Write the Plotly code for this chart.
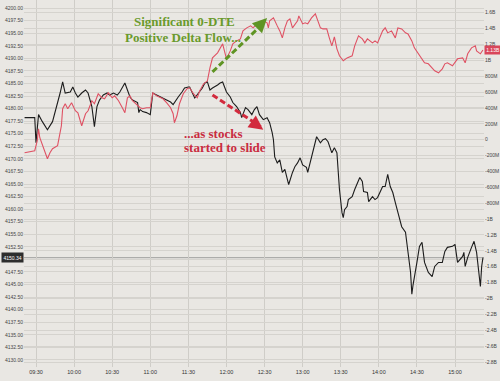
import plotly.graph_objects as go

BASE_DATE = "2023-03-02"

# SPX (left axis)
spx_times = [
    "09:21", "09:29", "09:30", "09:32", "09:35", "09:39", "09:43", "09:45", "09:47", "09:49",
    "09:51", "09:53", "09:57", "09:59", "10:01", "10:03", "10:06", "10:09", "10:11", "10:14",
    "10:16", "10:17", "10:18", "10:20", "10:23", "10:26", "10:28", "10:31", "10:34", "10:36",
    "10:39", "10:40", "10:42", "10:44", "10:46", "10:50", "10:51", "10:52", "10:54", "10:57",
    "11:00", "11:01", "11:02", "11:05", "11:08", "11:10", "11:13", "11:16", "11:18", "11:19",
    "11:22", "11:25", "11:27", "11:30", "11:31", "11:35", "11:38", "11:41", "11:43", "11:45",
    "11:47", "11:49", "11:53", "11:55", "11:57", "12:00", "12:03", "12:05", "12:08", "12:11",
    "12:12", "12:15", "12:17", "12:20", "12:22", "12:24", "12:26", "12:29", "12:32", "12:34",
    "12:36", "12:37", "12:38", "12:40", "12:42", "12:44", "12:46", "12:48", "12:49", "12:52",
    "12:54", "12:56", "12:58", "13:00", "13:03", "13:04", "13:07", "13:10", "13:11", "13:14",
    "13:16", "13:18", "13:20", "13:23", "13:25", "13:27", "13:28", "13:29", "13:31", "13:32",
    "13:33", "13:35", "13:36", "13:39", "13:41", "13:44", "13:45", "13:47", "13:48", "13:51",
    "13:52", "13:55", "13:57", "13:59", "14:03", "14:05", "14:07", "14:09", "14:11", "14:13",
    "14:15", "14:18", "14:21", "14:22", "14:23", "14:25", "14:26", "14:27", "14:30", "14:32",
    "14:34", "14:36", "14:39", "14:42", "14:44", "14:47", "14:50", "14:52", "14:54", "14:58",
    "15:00", "15:02", "15:06", "15:07", "15:08", "15:10", "15:13", "15:15", "15:17", "15:20",
    "15:21", "15:22",
]
spx_values = [
    4178.2, 4178.2, 4173.2, 4178.8, 4177.4, 4175.8, 4177.4, 4179.2, 4181.4, 4183.1,
    4185.3, 4183.1, 4183.3, 4184.3, 4183.1, 4182.3, 4183.1, 4183.7, 4183.1, 4180.4,
    4176.4, 4178.4, 4180.4, 4181.7, 4182.7, 4183.1, 4182.7, 4183.1, 4182.7, 4183.3,
    4184.7, 4185.1, 4183.7, 4182.3, 4181.7, 4181.2, 4179.2, 4179.8, 4179.4, 4179.2,
    4178.8, 4181.2, 4183.1, 4182.7, 4182.3, 4182.1, 4181.7, 4181.3, 4180.8, 4181.2,
    4182.3, 4183.3, 4184.1, 4184.3, 4184.3, 4182.1, 4183.1, 4184.1, 4185.1, 4185.3,
    4183.7, 4184.1, 4184.7, 4185.1, 4185.3, 4183.3, 4182.3, 4181.2, 4180.4, 4179.2,
    4178.2, 4180.2, 4179.8, 4178.8, 4179.8, 4180.4, 4178.8, 4177.8, 4178.2, 4177.2,
    4175.2, 4173.8, 4170.4, 4169.2, 4169.8, 4167.3, 4167.9, 4165.9, 4164.9, 4167.3,
    4168.5, 4169.2, 4170.2, 4168.8, 4168.3, 4167.3, 4170.4, 4173.8, 4174.4, 4173.2,
    4173.8, 4174.0, 4173.4, 4171.2, 4172.2, 4171.2, 4167.3, 4163.9, 4159.3, 4158.3,
    4159.9, 4160.5, 4161.9, 4162.5, 4163.9, 4165.5, 4166.3, 4165.5, 4163.5, 4163.3,
    4161.5, 4162.5, 4161.9, 4162.3, 4164.5, 4164.5, 4166.9, 4164.5, 4163.3, 4161.3,
    4159.3, 4156.5, 4155.4, 4153.4, 4151.4, 4147.4, 4143.1, 4145.0, 4149.4, 4152.6,
    4153.4, 4149.4, 4147.4, 4146.6, 4148.6, 4149.4, 4149.4, 4151.6, 4152.4, 4152.6,
    4153.0, 4149.4, 4150.6, 4151.4, 4148.6, 4150.4, 4152.4, 4153.6, 4151.4, 4144.6,
    4148.6, 4150.34,
]

# 0-DTE cumulative delta flow, in billions (right axis)
flow_times = [
    "09:21", "09:29", "09:31", "09:32", "09:33", "09:36", "09:39", "09:41", "09:43", "09:47",
    "09:49", "09:50", "09:51", "09:53", "09:55", "09:58", "10:01", "10:03", "10:06", "10:09",
    "10:11", "10:14", "10:16", "10:19", "10:22", "10:24", "10:27", "10:30", "10:32", "10:35",
    "10:38", "10:40", "10:42", "10:44", "10:46", "10:50", "10:52", "10:54", "10:57", "11:00",
    "11:02", "11:05", "11:08", "11:10", "11:13", "11:16", "11:18", "11:19", "11:21", "11:23",
    "11:26", "11:29", "11:31", "11:34", "11:37", "11:39", "11:42", "11:45", "11:47", "11:49",
    "11:53", "11:55", "11:57", "11:59", "12:00", "12:03", "12:05", "12:08", "12:11", "12:13",
    "12:16", "12:19", "12:21", "12:24", "12:26", "12:29", "12:32", "12:33", "12:34", "12:37",
    "12:40", "12:42", "12:44", "12:46", "12:48", "12:50", "12:52", "12:56", "12:57", "13:00",
    "13:02", "13:04", "13:07", "13:10", "13:12", "13:14", "13:16", "13:19", "13:21", "13:23",
    "13:25", "13:27", "13:29", "13:32", "13:35", "13:39", "13:41", "13:44", "13:47", "13:49",
    "13:51", "13:55", "13:57", "13:59", "14:03", "14:05", "14:07", "14:10", "14:13", "14:15",
    "14:18", "14:21", "14:23", "14:26", "14:28", "14:31", "14:34", "14:36", "14:39", "14:42",
    "14:44", "14:47", "14:50", "14:52", "14:54", "14:58", "15:00", "15:02", "15:06", "15:08",
    "15:10", "15:13", "15:16", "15:17", "15:20", "15:22",
]
flow_values = [
    -0.164, -0.138, -0.013, 0.138, 0.025, -0.101, -0.239, -0.164, -0.113, -0.075,
    0.075, 0.176, 0.390, 0.453, 0.390, 0.465, 0.365, 0.340, 0.176, 0.327,
    0.365, 0.491, 0.453, 0.579, 0.528, 0.516, 0.591, 0.528, 0.553, 0.491,
    0.403, 0.340, 0.528, 0.553, 0.491, 0.428, 0.403, 0.390, 0.403, 0.403,
    0.591, 0.553, 0.528, 0.516, 0.465, 0.403, 0.327, 0.214, 0.302, 0.453,
    0.579, 0.642, 0.654, 0.579, 0.528, 0.616, 0.704, 0.742, 0.906, 1.031,
    1.094, 1.157, 1.208, 1.082, 1.019, 1.119, 1.208, 1.245, 1.270, 1.371,
    1.409, 1.434, 1.409, 1.459, 1.472, 1.497, 1.472, 1.409, 1.497, 1.535,
    1.434, 1.371, 1.283, 1.409, 1.497, 1.522, 1.409, 1.497, 1.560, 1.459,
    1.472, 1.459, 1.535, 1.585, 1.497, 1.409, 1.396, 1.396, 1.283, 1.182,
    1.296, 1.145, 1.057, 0.994, 1.031, 1.057, 1.182, 1.308, 1.270, 1.220,
    1.270, 1.220, 1.245, 1.220, 1.371, 1.409, 1.346, 1.371, 1.283, 1.409,
    1.396, 1.346, 1.333, 1.245, 1.157, 1.082, 1.019, 0.969, 0.956, 0.906,
    0.868, 0.843, 0.893, 0.956, 0.969, 0.931, 0.969, 1.019, 1.031, 0.969,
    1.082, 1.157, 1.182, 1.119, 1.082, 1.130,
]

# left axis ticks: 4130.00 ... 4200.00 every 2.50
left_tickvals = [4130.0 + 2.5 * i for i in range(29)]
right_tickvals = [1.6, 1.4, 1.2, 1.0, 0.8, 0.6, 0.4, 0.2, 0.0, -0.2, -0.4, -0.6, -0.8,
                  -1.0, -1.2, -1.4, -1.6, -1.8, -2.0, -2.2, -2.4, -2.6, -2.8]
right_ticktext = ["1.6B", "1.4B", "1.2B", "1B", "800M", "600M", "400M", "200M", "0",
                  "-200M", "-400M", "-600M", "-800M", "-1B", "-1.2B", "-1.4B", "-1.6B",
                  "-1.8B", "-2B", "-2.2B", "-2.4B", "-2.6B", "-2.8B"]


def ts(hm):
    return f"{BASE_DATE} {hm}"


last_spx = spx_values[-1]
last_flow = flow_values[-1]
# the last-value tag covers the tick label it sits on
left_ticktext = ["" if abs(v - last_spx) < 1.25 else f"{v:.2f}" for v in left_tickvals]

BG = "#e9e7e3"
GRID = "#d5d3ce"

fig = go.Figure()
fig.add_trace(go.Scatter(
    x=[ts(t) for t in flow_times], y=flow_values, yaxis="y2", mode="lines",
    line=dict(color="#df5264", width=1.1), hoverinfo="skip", showlegend=False))
fig.add_trace(go.Scatter(
    x=[ts(t) for t in spx_times], y=spx_values, yaxis="y", mode="lines",
    line=dict(color="#1c1c1c", width=1.1), hoverinfo="skip", showlegend=False))

fig.update_layout(
    width=500, height=381,
    margin=dict(l=24, r=16, t=0, b=14),
    paper_bgcolor=BG, plot_bgcolor=BG,
    xaxis=dict(
        type="date", range=[ts("09:20:33"), ts("15:22:50")],
        tickformat="%H:%M", dtick=1800000, tick0=ts("09:30"),
        showgrid=True, gridcolor="#cfcdc8", gridwidth=1,
        zeroline=False, showline=False, ticks="",
        tickfont=dict(size=5.5, color="#333", family="Liberation Sans"),
    ),
    yaxis=dict(
        range=[4128.6, 4201.6], tickvals=left_tickvals, ticktext=left_ticktext,
        showgrid=True, gridcolor=GRID, gridwidth=1, zeroline=False, ticks="",
        tickfont=dict(size=5, color="#444", family="Liberation Sans"),
    ),
    yaxis2=dict(
        range=[-2.863, 1.76], overlaying="y", side="right",
        tickvals=right_tickvals, ticktext=right_ticktext,
        showgrid=True, gridcolor=GRID, gridwidth=1, zeroline=False, ticks="",
        tickfont=dict(size=5, color="#444", family="Liberation Sans"),
    ),
)

# last value line
fig.add_shape(type="line", xref="paper", x0=0, x1=1, yref="y",
              y0=last_spx, y1=last_spx,
              line=dict(color="#8a8a8a", width=0.8), layer="below")

# last value tags
fig.add_annotation(xref="paper", x=0, xanchor="right", yref="y", y=last_spx,
                   text=f"{last_spx:.2f}", showarrow=False, bgcolor="#2d2d2d",
                   font=dict(size=5, color="white", family="Liberation Sans"), borderpad=1.5)
fig.add_annotation(xref="paper", x=1, xanchor="left", yref="y2", y=last_flow,
                   text=f"{last_flow:.2f}B", showarrow=False, bgcolor="#d9465a",
                   font=dict(size=5, color="white", family="Liberation Sans"), borderpad=1.2)

GREEN = "#5f9424"
GREEN_TXT = "#6a9a2c"
RED = "#d22a3d"
RED_TXT = "#c92d41"
SERIF = "Liberation Serif"

# green dashed arrow
fig.add_shape(type="line", xref="x", yref="y", x0=ts("11:49"), y0=4187.3, x1=ts("12:30"), y1=4197.2,
              line=dict(color=GREEN, width=3, dash="6px,3px"))
fig.add_annotation(xref="x", yref="y", x=ts("12:32"), y=4198.0, ax=-7, ay=7, text="",
                   showarrow=True, arrowhead=2, arrowsize=1.1, arrowwidth=2.6, arrowcolor=GREEN)
# red dashed arrow
fig.add_shape(type="line", xref="x", yref="y", x0=ts("11:49"), y0=4182.7, x1=ts("12:27"), y1=4176.4,
              line=dict(color=RED, width=3, dash="6px,3px"))
fig.add_annotation(xref="x", yref="y", x=ts("12:29"), y=4175.8, ax=-7, ay=-5, text="",
                   showarrow=True, arrowhead=2, arrowsize=1.1, arrowwidth=2.6, arrowcolor=RED)

# text annotations
fig.add_annotation(xref="x", yref="y", x=ts("11:27"), y=4197.4, text="<b>Significant 0-DTE</b>",
                   showarrow=False, xanchor="center", yanchor="middle",
                   font=dict(size=13, color=GREEN_TXT, family=SERIF))
fig.add_annotation(xref="x", yref="y", x=ts("11:26"), y=4194.2, text="<b>Positive Delta Flow...</b>",
                   showarrow=False, xanchor="center", yanchor="middle",
                   font=dict(size=13, color=GREEN_TXT, family=SERIF))
fig.add_annotation(xref="x", yref="y", x=ts("11:25"), y=4175.0, text="<b>...as stocks</b>",
                   showarrow=False, xanchor="left", yanchor="middle",
                   font=dict(size=13, color=RED_TXT, family=SERIF))
fig.add_annotation(xref="x", yref="y", x=ts("11:25"), y=4172.2, text="<b>started to slide</b>",
                   showarrow=False, xanchor="left", yanchor="middle",
                   font=dict(size=13, color=RED_TXT, family=SERIF))

fig.write_html("out.html", config={"displayModeBar": False},
               post_script="document.body.style.margin='0';document.body.style.overflow='hidden';")
